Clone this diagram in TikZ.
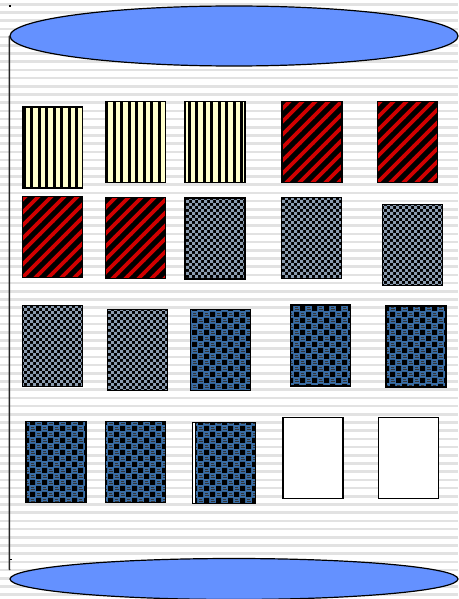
\documentclass[tikz,border=0pt]{standalone}
\definecolor{ruleline}{HTML}{E2E2E2}
\definecolor{lidblue}{HTML}{6491FF}
\definecolor{cream}{HTML}{FFFFCC}
\definecolor{hatchred}{HTML}{D00000}
\definecolor{checkgray}{HTML}{8C9DB0}
\definecolor{checkblue}{HTML}{3A6EA6}
\usetikzlibrary{patterns.meta,shapes.geometric}

\tikzdeclarepattern{
  name=creambars,
  type=colored,
  bottom left={(-.1pt,-.1pt)},
  top right={(7.6pt,7.6pt)},
  tile size={(7.5pt,7.5pt)},
  code={
    \tikzset{x=1pt,y=1pt}
    \fill[cream] (-.1,-.1) rectangle (7.6,7.6);
    \fill[black] (0,-.1) rectangle (3.3,7.6);
  }
}
\tikzdeclarepattern{
  name=redhatch,
  type=colored,
  bottom left={(-.1pt,-.1pt)},
  top right={(13.1pt,13.1pt)},
  tile size={(13pt,13pt)},
  code={
    \tikzset{x=1pt,y=1pt}
    \fill[black] (-.1,-.1) rectangle (13.1,13.1);
    \draw[hatchred,line width=3.6pt] (-2,-2) -- (15,15) (11,-2) -- (15,2) (-2,11) -- (2,15);
  }
}
\tikzdeclarepattern{
  name=graycheck,
  type=colored,
  bottom left={(-.1pt,-.1pt)},
  top right={(6.1pt,6.1pt)},
  tile size={(6pt,6pt)},
  code={
    \tikzset{x=1pt,y=1pt}
    \fill[black] (-.1,-.1) rectangle (6.1,6.1);
    \fill[checkgray] (0.2,0.2) rectangle (3,3) (3.2,3.2) rectangle (6,6);
  }
}
\tikzdeclarepattern{
  name=bluecheck,
  type=colored,
  bottom left={(-.1pt,-.1pt)},
  top right={(12.1pt,12.1pt)},
  tile size={(12pt,12pt)},
  code={
    \tikzset{x=1pt,y=1pt}
    \fill[checkblue] (-.1,-.1) rectangle (12.1,12.1);
    \fill[black] (0,0) rectangle (5,5) (6,6) rectangle (11,11);
    \draw[black!80,line width=.9pt] (6.5,1.5) -- (10.5,1.5) (0.5,7.5) -- (4.5,7.5)
      (7,4) -- (10,4) (1,10) -- (4,10);
  }
}

\begin{document}
\begin{tikzpicture}[x=1pt,y=-1pt,
  rule/.style={draw=ruleline,line width=2.5pt},
  disc/.style={ellipse,draw=black,line width=1.2pt,fill=lidblue,inner sep=0pt},
  wall/.style={draw=black!85,line width=1.5pt},
  box/.style={rectangle,draw=black,line width=1.3pt,minimum width=60pt,
    minimum height=81pt,inner sep=0pt},
  bars/.style={box,pattern=creambars},
  hatched/.style={box,pattern=redhatch},
  graybox/.style={box,pattern=graycheck},
  bluebox/.style={box,pattern=bluecheck},
  blankbox/.style={box,fill=white}
]
  \useasboundingbox (0,0) rectangle (458,599);
  \fill[white] (0,0) rectangle (458,599);
  \foreach \y in {4.3,12.5,...,599}
    \draw[rule] (0,\y) -- (458,\y);

  \node[disc,minimum width=448pt,minimum height=60pt] (lid) at (234,36) {};
  \node[disc,minimum width=448pt,minimum height=41pt] (base) at (234,579) {};
  \coordinate (foot) at (9.5,570);
  \draw[wall] (lid.west) -- (foot);
  \fill (9,5) rectangle (11,7);
  \draw[line width=.8pt] (9.5,559) -- (12,559);

  \node[bars] (b1) at (52.5,147.5) {};
  \node[bars] (b2) at (135.5,142) {};
  \node[bars] (b3) at (215,142) {};
  \node[hatched] (b4) at (312,142) {};
  \node[hatched] (b5) at (407.5,142) {};

  \node[hatched] (b6) at (52.5,237) {};
  \node[hatched] (b7) at (135.5,238) {};
  \node[graybox] (b8) at (215,238.5) {};
  \node[graybox] (b9) at (311.5,238) {};
  \node[graybox] (b10) at (412.5,245) {};

  \node[graybox] (b11) at (52.5,346) {};
  \node[graybox] (b12) at (137.5,350) {};
  \node[bluebox] (b13) at (220.5,350) {};
  \node[bluebox] (b14) at (320.5,345.5) {};
  \node[bluebox] (b15) at (416,346.5) {};

  \node[bluebox] (b16) at (56,462) {};
  \node[bluebox] (b17) at (135.5,462) {};
  \node[blankbox,minimum width=63pt] (b18frame) at (224,463) {};
  \node[bluebox] (b18) at (225.5,463) {};
  \node[blankbox] (b19) at (313,458) {};
  \node[blankbox] (b20) at (408.5,458) {};
\end{tikzpicture}
\end{document}
